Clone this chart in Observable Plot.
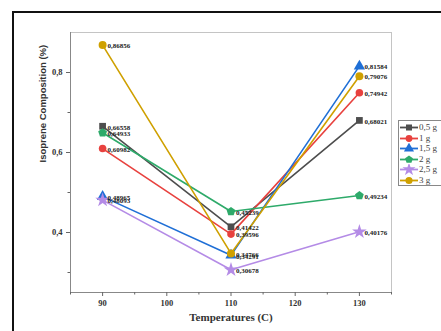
<!DOCTYPE html>
<html>
<head>
<meta charset="utf-8">
<script src="https://cdn.jsdelivr.net/npm/d3@7"></script>
<script src="https://cdn.jsdelivr.net/npm/@observablehq/plot@0.6"></script>
<style>
  html, body { margin:0; padding:0; background:#fff; width:441px; height:331px; overflow:hidden; }
  #wrap { position:relative; width:441px; height:331px; }
  #border { position:absolute; left:12px; top:11px; width:520px; height:400px; border:2px solid #111; }
  #chart { position:absolute; left:0; top:0; }
  #legend { position:absolute; left:398px; top:120px; width:50px; height:64px; border:1px solid #888; background:#fff;
            font-family:"Liberation Serif", serif; font-size:9px; line-height:11px; color:#444; overflow:hidden; }
  .row { position:absolute; left:0; height:11px; line-height:11px; display:flex; align-items:center; }
  .row svg { display:block; }
  .row span { margin-left:1px; }
</style>
</head>
<body>
<div id="wrap">
  <div id="border"></div>
  <div id="chart"></div>
  <div id="legend"></div>
</div>
<script>
// ---- data ----
const temps = [90, 110, 130];
const seriesNames = ["0,5 g", "1 g", "1,5 g", "2 g", "2,5 g", "3 g"];
const vals05 = [0.66558, 0.41422, 0.68021];
const vals1  = [0.60982, 0.39596, 0.74942];
const vals15 = [0.48965, 0.34291, 0.81584];
const vals2  = [0.64933, 0.45239, 0.49234];
const vals25 = [0.48093, 0.30678, 0.40176];
const vals3  = [0.86856, 0.34766, 0.79076];
const seriesValues = [vals05, vals1, vals15, vals2, vals25, vals3];
const colors = ["#4d4d4d", "#e8413e", "#1f6fd6", "#2eaa6a", "#b48be6", "#cfa000"];
const xMajorTicks = [90, 100, 110, 120, 130];
const xMinorTicks = [85, 95, 105, 115, 125, 135];
const yMajorTicks = [0.4, 0.6, 0.8];
const yMinorTicks = [0.3, 0.5, 0.7];
const xTitle = "Temperatures (C)";
const yTitle = "Isoprene Composition (%)";

// custom symbols
const pentagon = {
  draw(ctx, size) {
    const r = Math.sqrt(size / (2.5 * Math.sin(2 * Math.PI / 5)));
    for (let i = 0; i < 5; i++) {
      const a = -Math.PI / 2 + i * 2 * Math.PI / 5;
      const px = r * Math.cos(a), py = r * Math.sin(a);
      if (i === 0) ctx.moveTo(px, py); else ctx.lineTo(px, py);
    }
    ctx.closePath();
  }
};
const symbols = [d3.symbolSquare, d3.symbolCircle, d3.symbolTriangle, pentagon, d3.symbolStar, d3.symbolCircle];
const radii = [3.8, 3.8, 4.2, 4.0, 4.6, 4.0];

const comma = v => String(v).replace(".", ",");
const rows = seriesNames.map((name, i) => temps.map((t, j) => ({series: name, i, x: t, y: seriesValues[i][j], label: comma(seriesValues[i][j])})));

const marks = [
  Plot.frame({stroke: "#c4c4c4"}),
  Plot.ruleY([0.25], {stroke: "#888"}),
  Plot.ruleX([85], {stroke: "#888"}),
  Plot.axisX({ticks: xMajorTicks, tickSize: 4, tickPadding: 3, tickFormat: d => d, fontWeight: "bold", fontSize: 8.5,
    fontFamily: "Liberation Serif", label: null, stroke: "#666"}),
  Plot.axisX({ticks: xMinorTicks, tickSize: 2.5, tickFormat: () => "", label: null, stroke: "#666"}),
  Plot.axisY({ticks: yMajorTicks, tickSize: 4, tickPadding: 4, tickFormat: d => comma(d), fontWeight: "bold", fontSize: 8.5,
    fontFamily: "Liberation Serif", label: null, stroke: "#666"}),
  Plot.axisY({ticks: yMinorTicks, tickSize: 2.5, tickFormat: () => "", label: null, stroke: "#666"}),
  Plot.text([xTitle], {frameAnchor: "bottom", dy: 28, text: d => d, fontFamily: "Liberation Serif", fontWeight: "bold",
    fontSize: 11, fill: "#333"}),
  Plot.text([yTitle], {frameAnchor: "left", dx: -28, rotate: -90, text: d => d, fontFamily: "Liberation Sans", fontWeight: "bold",
    fontSize: 9.5, fill: "#333"})
];
rows.forEach((data, i) => {
  marks.push(Plot.line(data, {x: "x", y: "y", stroke: colors[i], strokeWidth: 1.6}));
  marks.push(Plot.dot(data, {x: "x", y: "y", symbol: symbols[i], r: radii[i], fill: colors[i], stroke: "none"}));
});
rows.forEach((data, i) => {
  marks.push(Plot.text(data, {x: "x", y: "y", text: "label", dx: 5, dy: 1, textAnchor: "start", fontFamily: "Liberation Serif",
    fontWeight: "bold", fontSize: 7, fill: "#222"}));
});

const chart = Plot.plot({
  width: 441, height: 331,
  marginLeft: 70, marginRight: 50, marginTop: 32, marginBottom: 39,
  x: {domain: [85, 135]},
  y: {domain: [0.25, 0.9]},
  style: {background: "transparent", color: "#333"},
  marks
});
document.getElementById("chart").appendChild(chart);

// legend
const legend = d3.select("#legend");
seriesNames.forEach((name, i) => {
  const row = legend.append("div").attr("class", "row").style("top", (1 + i * 10.5) + "px");
  const svg = row.append("svg").attr("width", 19).attr("height", 11);
  svg.append("line").attr("x1", 1).attr("x2", 19).attr("y1", 5.5).attr("y2", 5.5).attr("stroke", colors[i]).attr("stroke-width", 1.8);
  svg.append("path").attr("transform", "translate(10,5.5)")
    .attr("d", d3.symbol().type(symbols[i]).size(Math.PI * radii[i] * radii[i] * 0.8)())
    .attr("fill", colors[i]);
  row.append("span").text(name);
});
</script>
</body>
</html>
